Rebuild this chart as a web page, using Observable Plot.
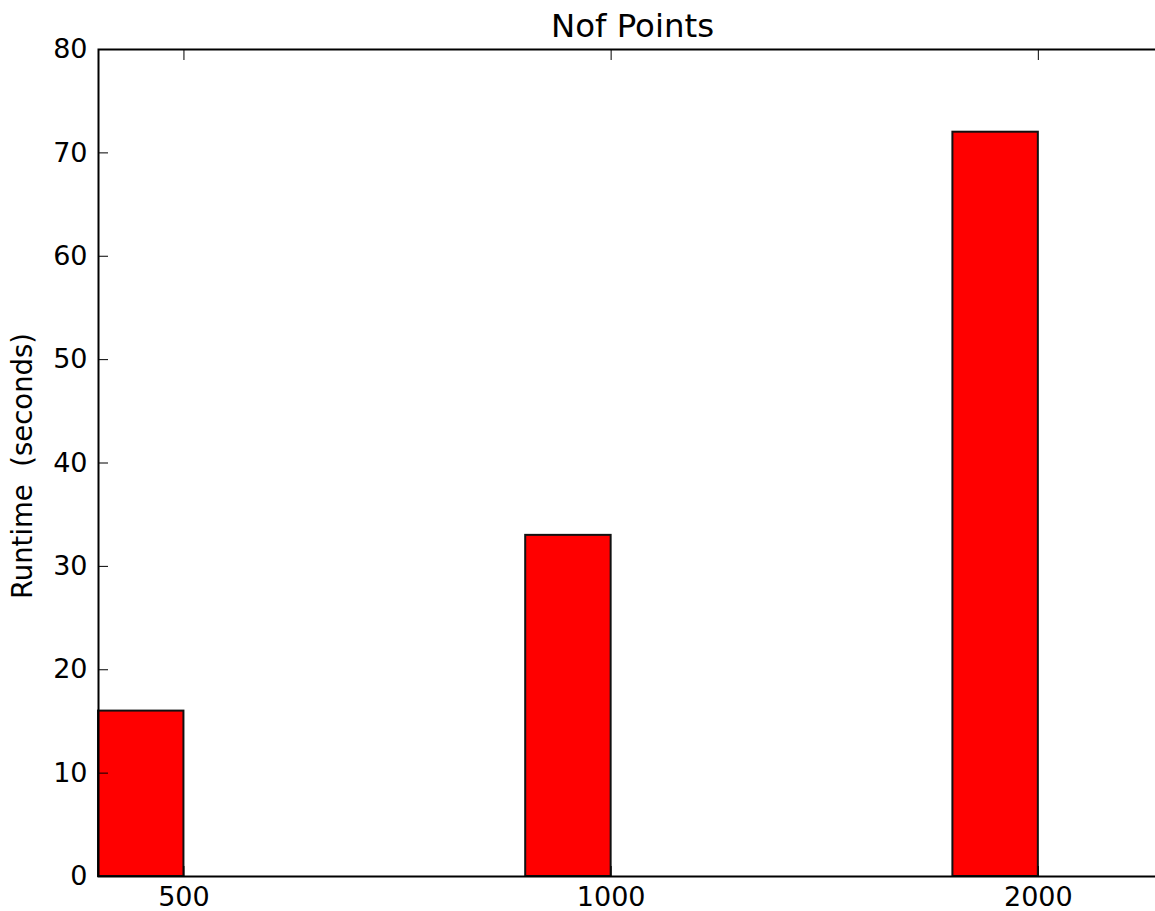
<!DOCTYPE html>
<html>
<head>
<meta charset="utf-8">
<script src="https://cdn.jsdelivr.net/npm/d3@7"></script>
<script src="https://cdn.jsdelivr.net/npm/@observablehq/plot@0.6"></script>
<style>
  html, body { margin: 0; padding: 0; background: #fff; overflow: hidden; }
  #chart svg { display: block; max-width: none !important; }
</style>
</head>
<body>
<div id="chart"></div>
<script>
// Runtime per number of points
const pointCounts = ["500", "1000", "2000"];
const runtimes = [16, 33, 72];
const yTickValues = [0, 10, 20, 30, 40, 50, 60, 70, 80];

const barWidth = 0.2;
const bars = pointCounts.map((label, i) => ({label, index: i, runtime: runtimes[i]}));
// tick at the right edge of each bar
const xTicks = bars.map(d => d.index + barWidth);
const labelFor = v => pointCounts[Math.round(v - barWidth)];

const chart = Plot.plot({
  width: 1166,
  height: 911,
  marginLeft: 98,
  marginRight: 0,
  marginTop: 49,
  marginBottom: 35,
  style: {fontFamily: "'DejaVu Sans', sans-serif", background: "white", color: "black", maxWidth: "none"},
  x: {domain: [0, 2.5]},
  y: {domain: [0, 80]},
  marks: [
    Plot.rectY(bars, {
      x1: "index",
      x2: d => d.index + barWidth,
      y1: 0,
      y2: "runtime",
      fill: "#ff0000",
      stroke: "#111",
      strokeWidth: 2
    }),
    // tick labels
    Plot.axisY(yTickValues, {anchor: "left", tickSize: 0, tickPadding: 11, fontSize: 27, label: null}),
    Plot.axisX(xTicks, {anchor: "bottom", tickSize: 0, tickPadding: 10, fontSize: 27, tickFormat: labelFor, label: null}),
    // inward ticks
    Plot.axisY(yTickValues, {anchor: "left", tickSize: -10, tickFormat: () => "", label: null}),
    Plot.axisX(xTicks, {anchor: "bottom", tickSize: -10, tickFormat: () => "", label: null}),
    Plot.axisX(xTicks, {anchor: "top", tickSize: -10, tickFormat: () => "", label: null}),
    Plot.frame({stroke: "black", strokeWidth: 2}),
    Plot.text(["Nof Points"], {frameAnchor: "top", dy: -23, lineAnchor: "middle", textAnchor: "middle", fontSize: 32.4}),
    Plot.text(["Runtime\u00a0\u00a0(seconds)"], {frameAnchor: "left", dx: -75, dy: 3, rotate: -90, lineAnchor: "middle", textAnchor: "middle", fontSize: 27.5})
  ]
});

document.getElementById("chart").append(chart);
</script>
</body>
</html>
